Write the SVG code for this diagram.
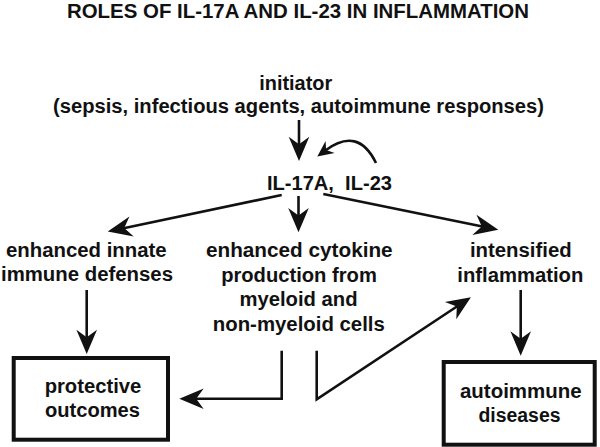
<svg xmlns="http://www.w3.org/2000/svg" width="600" height="447" viewBox="0 0 600 447">
<style>
text{font-family:"Liberation Sans",Arial,sans-serif;font-weight:bold;font-size:19.5px;fill:#111;text-anchor:middle}
.ln{fill:none;stroke:#111;stroke-width:2.6}
.box{fill:#fff;stroke:#111;stroke-width:4}
</style>
<defs>
<marker id="hL" markerUnits="userSpaceOnUse" orient="auto" refX="10" refY="0" markerWidth="30" markerHeight="30" viewBox="-2 -13 32 26" overflow="visible">
<path d="M0,-11 L26,0 L0,11 L8,0 Z" fill="#111"/>
</marker>
<marker id="hS" markerUnits="userSpaceOnUse" orient="auto" refX="6" refY="0" markerWidth="20" markerHeight="20" viewBox="-2 -9 20 18" overflow="visible">
<path d="M0,-7.5 L16,0 L0,7.5 L5,0 Z" fill="#111"/>
</marker>
</defs>
<rect width="600" height="447" fill="#fff"/>
<g id="title"><text x="298" y="18" textLength="462" lengthAdjust="spacingAndGlyphs">ROLES OF IL-17A AND IL-23 IN INFLAMMATION</text></g>
<g id="initiator">
<text x="295.7" y="90" textLength="73" lengthAdjust="spacingAndGlyphs">initiator</text>
<text x="298.5" y="113" textLength="491" lengthAdjust="spacingAndGlyphs">(sepsis, infectious agents, autoimmune responses)</text>
</g>
<g id="il17a"><text x="329.5" y="190" textLength="125" lengthAdjust="spacingAndGlyphs" xml:space="preserve">IL-17A,  IL-23</text></g>
<g id="innate">
<text x="86.3" y="257.3" textLength="160.7" lengthAdjust="spacingAndGlyphs">enhanced innate</text>
<text x="87" y="281" textLength="172" lengthAdjust="spacingAndGlyphs">immune defenses</text>
</g>
<g id="cytokine">
<text x="299.3" y="257" textLength="186.7" lengthAdjust="spacingAndGlyphs">enhanced cytokine</text>
<text x="299" y="281.5" textLength="155.7" lengthAdjust="spacingAndGlyphs">production from</text>
<text x="298.5" y="305.5" textLength="118" lengthAdjust="spacingAndGlyphs">myeloid and</text>
<text x="298.8" y="330.5" textLength="172" lengthAdjust="spacingAndGlyphs">non-myeloid cells</text>
</g>
<g id="inflammation">
<text x="520.8" y="257.3" textLength="101.7" lengthAdjust="spacingAndGlyphs">intensified</text>
<text x="520.3" y="281.7" textLength="126" lengthAdjust="spacingAndGlyphs">inflammation</text>
</g>
<g id="protective">
<rect class="box" x="13.7" y="358" width="154.3" height="81.7"/>
<text x="93" y="393.3" textLength="96.7" lengthAdjust="spacingAndGlyphs">protective</text>
<text x="92.5" y="416.7" textLength="95" lengthAdjust="spacingAndGlyphs">outcomes</text>
</g>
<g id="autoimmune">
<rect class="box" x="443.7" y="362" width="151" height="82.7"/>
<text x="520.8" y="398.3" textLength="121.7" lengthAdjust="spacingAndGlyphs">autoimmune</text>
<text x="519.5" y="421.7" textLength="82" lengthAdjust="spacingAndGlyphs">diseases</text>
</g>
<g id="connectors">
<path class="ln" d="M299,120 V146" marker-end="url(#hL)"/>
<path class="ln" d="M376,163 Q358,126 325.3,150.5" marker-end="url(#hS)"/>
<path class="ln" d="M281.7,195 L122.4,228.4" marker-end="url(#hL)"/>
<path class="ln" d="M298.5,196 V217.3" marker-end="url(#hL)"/>
<path class="ln" d="M323.3,194 L483.6,226.8" marker-end="url(#hL)"/>
<path class="ln" d="M86.7,290 V339" marker-end="url(#hL)"/>
<path class="ln" d="M520.7,290 V340.7" marker-end="url(#hL)"/>
<path class="ln" d="M281.7,350.7 V398.7 H194.3" marker-end="url(#hL)"/>
<path class="ln" d="M316.7,350.7 V399.3 L458.4,305.5" marker-end="url(#hL)"/>
</g>
</svg>
